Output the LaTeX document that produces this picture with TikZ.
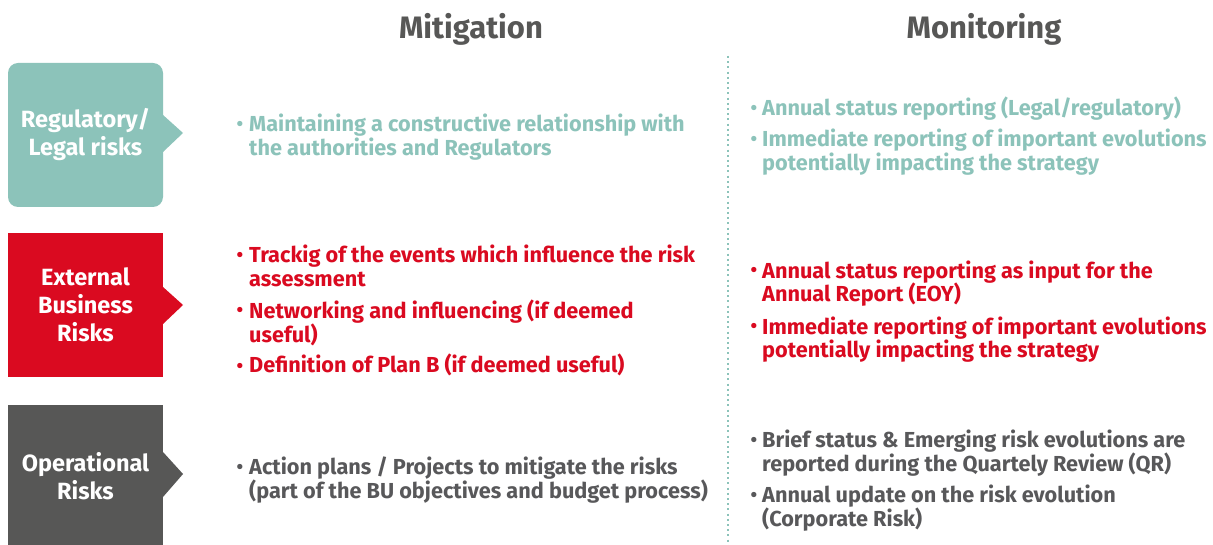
\documentclass[tikz,border=0pt]{standalone}
\usepackage{fontspec}
\setmainfont{Fira Sans}
\begin{document}
\definecolor{teal}{HTML}{8CC3BA}
\definecolor{riskred}{HTML}{DA0A20}
\definecolor{darkgrey}{HTML}{575756}
\definecolor{textgrey}{HTML}{58585A}
\tikzset{
  riskbox/.style={rectangle, minimum width=155pt, minimum height=144pt, inner sep=0pt,
    text=white, align=center, font=\fontsize{23.5}{28}\selectfont\bfseries},
  head/.style={anchor=base, text=darkgrey, inner sep=0pt, font=\fontsize{31}{36}\selectfont\bfseries},
  item/.style={anchor=base west, inner sep=0pt, align=left, font=\fontsize{21.7}{24}\selectfont\bfseries},
  dot/.style={anchor=base, inner sep=0pt, font=\fontsize{19}{24}\selectfont\bfseries},
}
\begin{tikzpicture}[x=1pt, y=-1pt]
  \useasboundingbox (0,0) rectangle (1213,545);
  \fill[white] (0,0) rectangle (1213,545);

  % column headings
  \node[head] (hmit) at (471,39) {Mitigation};
  \node[head] (hmon) at (984,39) {Monitoring};

  % dotted separator between the two columns
  \coordinate (septop) at (727.5,56);
  \coordinate (sepbot) at (727.5,545);
  \draw[teal, line width=2pt, dash pattern=on 2pt off 3.2pt] (septop) -- (sepbot);

  % risk category boxes with pointer
  \node[riskbox, fill=teal, rounded corners=10pt] (reg) at (85.5,135) {Regulatory/\\Legal risks};
  \fill[teal] (163,115) -- (183,133) -- (163,152) -- cycle;
  \node[riskbox, fill=riskred] (ext) at (85.5,305) {External\\Business\\Risks};
  \fill[riskred] (163,287) -- (183,305) -- (163,324) -- cycle;
  \node[riskbox, fill=darkgrey, minimum height=143pt] (ope) at (85.5,476.5) {Operational\\Risks};
  \fill[darkgrey] (163,452) -- (183,474) -- (163,497) -- cycle;

  % bullet items; a node's base is the baseline of its last line
  \begin{scope}[every node/.append style={text=teal}]
    \node[dot] (m1d) at (240,131) {•};
    \node[item] (m1) at (249,156) {Maintaining a constructive relationship with\\the authorities and Regulators};
    \node[dot] (n1d) at (754,115) {•};
    \node[item] (n1) at (762,116) {Annual status reporting (Legal/regulatory)};
    \node[dot] (n2d) at (754,146) {•};
    \node[item] (n2) at (762,171) {Immediate reporting of important evolutions\\potentially impacting the strategy};
  \end{scope}

  \begin{scope}[every node/.append style={text=riskred}]
    \node[dot] (m2d) at (240,262) {•};
    \node[item] (m2) at (249,287) {Trackig of the events which influence the risk\\assessment};
    \node[dot] (m3d) at (240,317) {•};
    \node[item] (m3) at (249,342) {Networking and influencing (if deemed\\useful)};
    \node[dot] (m4d) at (240,372) {•};
    \node[item] (m4) at (249,373) {Definition of Plan B (if deemed useful)};
    \node[dot] (n3d) at (754,277) {•};
    \node[item] (n3) at (762,302) {Annual status reporting as input for the\\Annual Report (EOY)};
    \node[dot] (n4d) at (754,333) {•};
    \node[item] (n4) at (762,358) {Immediate reporting of important evolutions\\potentially impacting the strategy};
  \end{scope}

  \begin{scope}[every node/.append style={text=textgrey}]
    \node[dot] (m5d) at (240,473) {•};
    \node[item] (m5) at (249,498) {Action plans / Projects to mitigate the risks\\(part of the BU objectives and budget process)};
    \node[dot] (n5d) at (754,446) {•};
    \node[item] (n5) at (762,471) {Brief status \& Emerging risk evolutions are\\reported during the Quartely Review (QR)};
    \node[dot] (n6d) at (754,501) {•};
    \node[item] (n6) at (762,526) {Annual update on the risk evolution\\(Corporate Risk)};
  \end{scope}
\end{tikzpicture}
\end{document}
